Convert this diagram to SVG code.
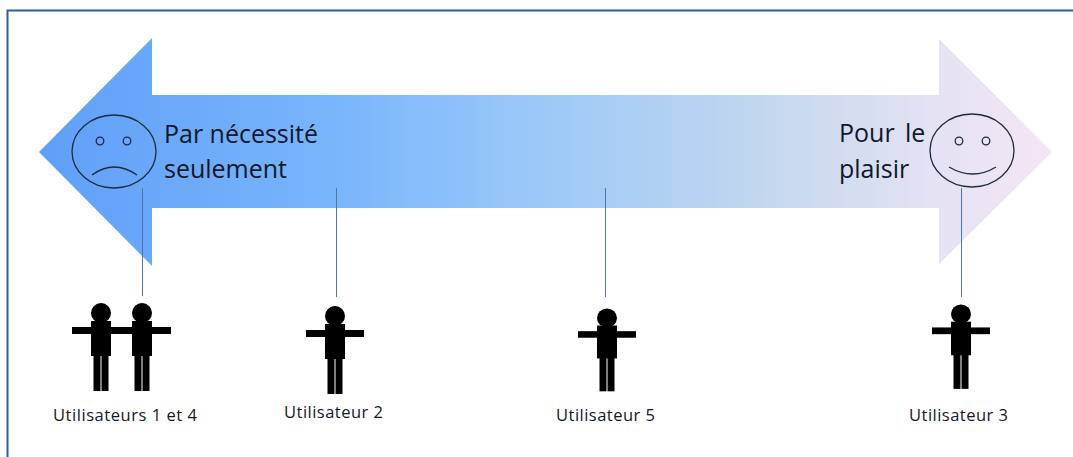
<svg xmlns="http://www.w3.org/2000/svg" width="1073" height="457" viewBox="0 0 1073 457">
<defs>
<linearGradient id="band" gradientUnits="userSpaceOnUse" x1="39" y1="0" x2="1053" y2="0">
<stop offset="0" stop-color="#5f9ff8"/>
<stop offset="0.3" stop-color="#7ab6fc"/>
<stop offset="0.5" stop-color="#9dc9f8"/>
<stop offset="0.7" stop-color="#c0d6ee"/>
<stop offset="0.88" stop-color="#e4e2f3"/>
<stop offset="1" stop-color="#f4e6f4"/>
</linearGradient>
<g id="person">
<circle cx="0" cy="0" r="10" fill="#000"/>
<rect x="-29" y="14" width="58" height="7" fill="#000"/>
<rect x="-10" y="8" width="20" height="35" fill="#000"/>
<rect x="-7.500" y="42" width="7" height="36" fill="#000"/>
<rect x="0.500" y="42" width="7" height="36" fill="#000"/>
</g>
</defs>
<style>
.lbl{font-family:"Open Sans","Noto Sans","Liberation Sans",sans-serif;fill:#10182a}
.big{font-size:25px}
.small{font-size:16.5px}
.face{fill:none;stroke:#1f2a3c;stroke-width:1.3}
.conn{stroke:#4a76a8;stroke-width:1;fill:none}
.frame{stroke:#2f5f94;stroke-width:2;fill:none}
</style>
<path class="frame" d="M7.500 457 V10.500 H1073"/>
<path id="arrow" d="M39 152 L152 38 V95 H939 V39 L1052 152 L939 264 V208 H152 V266 Z" fill="url(#band)"/>
<g id="connectors">
<line class="conn" x1="142.500" y1="188" x2="142.500" y2="296"/>
<line class="conn" x1="336.500" y1="188" x2="336.500" y2="297"/>
<line class="conn" x1="605.500" y1="188" x2="605.500" y2="297"/>
<line class="conn" x1="961.500" y1="188" x2="961.500" y2="297"/>
</g>
<g id="sad-face">
<ellipse class="face" cx="114" cy="151.500" rx="42" ry="36.500"/>
<circle class="face" cx="100" cy="141" r="3.800"/>
<circle class="face" cx="127" cy="141" r="3.800"/>
<path class="face" d="M92 175 Q114 159 137 175"/>
</g>
<g id="happy-face">
<ellipse class="face" cx="972" cy="150.500" rx="42" ry="36.500"/>
<circle class="face" cx="959" cy="141" r="3.800"/>
<circle class="face" cx="986" cy="141" r="3.800"/>
<path class="face" d="M949 167 Q973 181 996 167"/>
</g>
<g id="label-necessite">
<text class="lbl big" x="164" y="143" textLength="154">Par nécessité</text>
<text class="lbl big" x="164" y="178" textLength="123">seulement</text>
</g>
<g id="label-plaisir">
<text class="lbl big" x="839" y="142">Pour</text>
<text class="lbl big" x="905" y="142">le</text>
<text class="lbl big" x="839" y="178">plaisir</text>
</g>
<g id="user-1"><use href="#person" x="101" y="313"/></g>
<g id="user-4"><use href="#person" x="142" y="313"/></g>
<g id="user-2"><use href="#person" x="335" y="316"/></g>
<g id="user-5"><use href="#person" transform="translate(607 318) scale(1 0.94)"/></g>
<g id="user-3"><use href="#person" transform="translate(961 314) scale(1 0.96)"/></g>
<text class="lbl small" x="53" y="421" textLength="144">Utilisateurs 1 et 4</text>
<text class="lbl small" x="284" y="418" textLength="99">Utilisateur 2</text>
<text class="lbl small" x="556" y="421" textLength="99">Utilisateur 5</text>
<text class="lbl small" x="909" y="421" textLength="99">Utilisateur 3</text>
</svg>
